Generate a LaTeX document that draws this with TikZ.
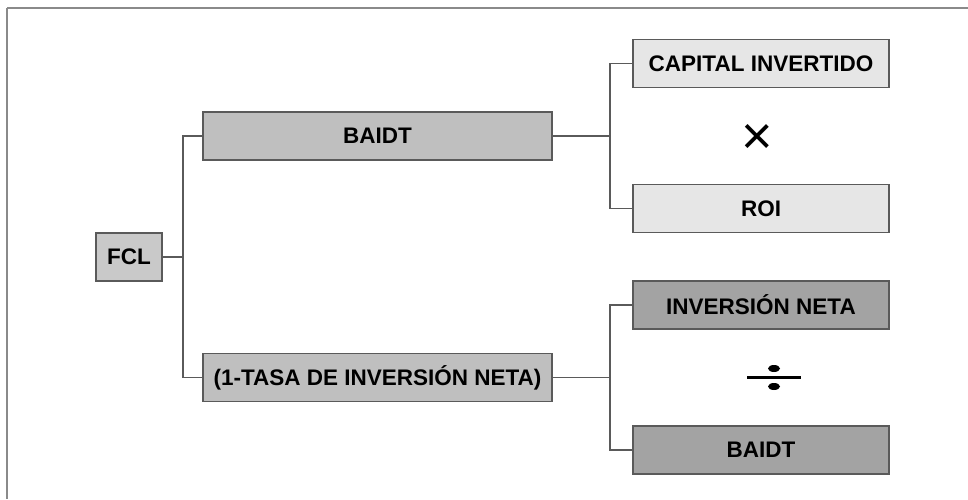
\documentclass[tikz,border=0pt]{standalone}
\usepackage{fontspec}
\setmainfont{Liberation Sans}
\definecolor{edge}{HTML}{5A5A5A}
\definecolor{frameC}{HTML}{8A8A8A}
\definecolor{midgray}{HTML}{BFBFBF}
\definecolor{fclgray}{HTML}{C9C9C9}
\definecolor{lightgray}{HTML}{E6E6E6}
\definecolor{darkgray}{HTML}{A3A3A3}
\begin{document}
\begin{tikzpicture}[x=1pt,y=-1pt,
  box/.style={draw=edge,line width=1.3pt,rectangle,inner sep=0pt,
    font=\fontsize{22.5}{22.5}\selectfont\bfseries,text=black},
  wide/.style={box,minimum width=349pt,minimum height=48pt},
  narrow/.style={box,minimum width=256pt,minimum height=48pt},
  link/.style={draw=edge,line width=1.2pt},
  opsym/.style={inner sep=0pt,anchor=center}]
\useasboundingbox (0,0) rectangle (968,499);
\fill[white] (0,0) rectangle (968,499);
\draw[frameC,line width=2pt] (7,8) -- (968,8);
\draw[frameC,line width=2pt] (7,8) -- (7,499);

\node[box,fill=fclgray,minimum width=66pt,minimum height=48pt] (fcl) at (129,257) {FCL};
\node[wide,fill=midgray] (baidt) at (377.5,136) {BAIDT};
\node[wide,fill=midgray] (tasa) at (377.5,377.5) {(1-TASA DE INVERSIÓN NETA)};
\node[narrow,fill=lightgray] (cap) at (761,63.5) {CAPITAL INVERTIDO};
\node[narrow,fill=lightgray] (roi) at (761,208.5) {ROI};
\node[narrow,fill=darkgray] (inv) at (761,305) {INVERSIÓN NETA};
\node[narrow,fill=darkgray] (baidtb) at (761,450) {BAIDT};

\coordinate (j1) at (183,257);
\coordinate (j2) at (610,136);
\coordinate (j3) at (610,377.5);

\draw[link] (fcl.east) -- (j1);
\draw[link] (baidt.west) -| (j1) |- (tasa.west);
\draw[link] (baidt.east) -- (j2);
\draw[link] (cap.west) -| (j2) |- (roi.west);
\draw[link] (tasa.east) -- (j3);
\draw[link] (inv.west) -| (j3) |- (baidtb.west);

\node[opsym,font=\fontsize{54}{54}\selectfont] (times) at (757,139) {×};
% division sign
\coordinate (dv) at (774,377.5);
\draw[black,line width=3.5pt] ([xshift=-27pt]dv) -- ([xshift=27pt]dv);
\fill[black] ([yshift=-9pt]dv) ellipse (6pt and 3.5pt);
\fill[black] ([yshift=9pt]dv) ellipse (6pt and 3.5pt);
\end{tikzpicture}
\end{document}
